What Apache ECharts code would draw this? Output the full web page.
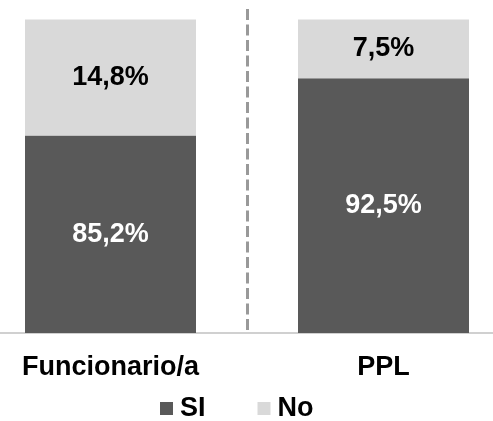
<!DOCTYPE html>
<html>
<head>
<meta charset="utf-8">
<script src="https://cdn.jsdelivr.net/npm/echarts@6/dist/echarts.min.js"></script>
<style>
html,body{margin:0;padding:0;background:#fff;}
#c{width:493px;height:421px;}
</style>
</head>
<body>
<div id="c"></div>
<script>
const categories = ['Funcionario/a', 'PPL'];
const siValues = [85.2, 92.5];
const noValues = [14.8, 7.5];
const seriesNames = ['SI', 'No'];
const yMin = 60;
const yMax = 101.34;

const fmt = p => p.value.toFixed(1).replace('.', ',') + '%';
const FONT = 'Liberation Sans, Arial, sans-serif';

const chart = echarts.init(document.getElementById('c'));
chart.setOption({
  animation: false,
  backgroundColor: '#fff',
  grid: { left: -26, right: -27, top: 9, bottom: 88, containLabel: false, outerBoundsMode: 'none' },
  legend: {
    data: seriesNames,
    left: 160,
    top: 395,
    padding: 0,
    itemWidth: 13,
    itemHeight: 13,
    itemGap: 52,
    icon: 'rect',
    textStyle: { fontFamily: FONT, fontSize: 27, fontWeight: 'bold', color: '#000', padding: [0, 0, 0, 2] }
  },
  xAxis: {
    type: 'category',
    data: categories,
    axisLine: { show: true, onZero: false, lineStyle: { color: '#d0d0d0', width: 2 } },
    axisTick: { show: false },
    axisLabel: { fontFamily: FONT, fontSize: 27, fontWeight: 'bold', color: '#000', margin: 21 },
    splitLine: { show: true, lineStyle: { color: '#999', width: 3, type: [11, 4.5] } }
  },
  yAxis: {
    type: 'value',
    min: yMin,
    max: yMax,
    show: false,
    splitLine: { show: false }
  },
  series: [
    {
      name: seriesNames[0],
      type: 'bar',
      stack: 'total',
      data: siValues,
      barWidth: 171,
      clip: true,
      itemStyle: { color: '#595959' },
      label: { show: true, position: 'inside', formatter: fmt, fontFamily: FONT, fontSize: 27, fontWeight: 'bold', color: '#fff' }
    },
    {
      name: seriesNames[1],
      type: 'bar',
      stack: 'total',
      data: noValues,
      barWidth: 171,
      clip: true,
      itemStyle: { color: '#d9d9d9' },
      label: { show: true, position: 'inside', formatter: fmt, fontFamily: FONT, fontSize: 27, fontWeight: 'bold', color: '#000' }
    }
  ]
});
</script>
</body>
</html>
